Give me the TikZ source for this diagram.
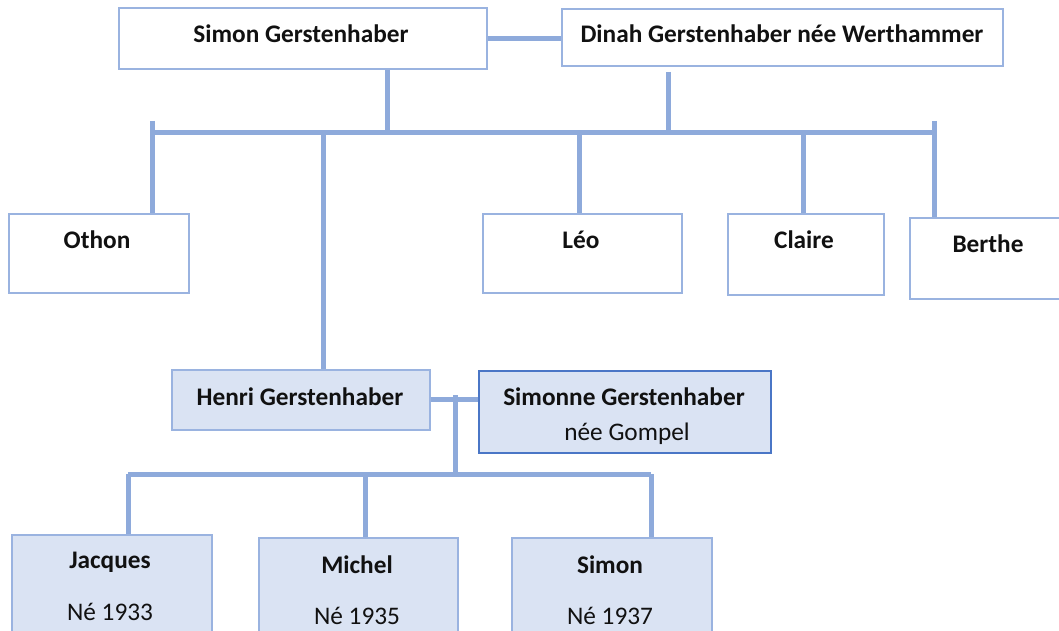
\documentclass[tikz,border=0pt]{standalone}
\usepackage{fontspec}
\setmainfont{Carlito}
\definecolor{connc}{HTML}{8EAADB}
\definecolor{boxline}{HTML}{9AB3E0}
\definecolor{fillb}{HTML}{DAE3F3}
\definecolor{darkb}{HTML}{4A76C6}
\definecolor{txt}{HTML}{111111}
\begin{document}
\begin{tikzpicture}[x=1pt,y=-1pt,
  pbox/.style={draw=boxline, line width=1.3pt, fill=white, inner sep=0pt},
  cbox/.style={pbox, fill=fillb},
  conn/.style={draw=connc, line width=5pt},
  nm/.style={font=\bfseries\fontsize{25.3}{29}\selectfont, inner sep=0pt, anchor=base, text=txt},
  sub/.style={font=\fontsize{25.3}{29}\selectfont, inner sep=0pt, anchor=base, text=txt}]
\useasboundingbox (0,0) rectangle (1059,631);
\fill[white] (0,0) rectangle (1059,631);

% boxes
\node[pbox, minimum width=368, minimum height=61] (simon) at (303,38.5) {};
\node[pbox, minimum width=441, minimum height=57] (dinah) at (782.5,37.5) {};
\node[pbox, minimum width=180, minimum height=79] (othon) at (99,253.5) {};
\node[pbox, minimum width=199, minimum height=79] (leo) at (582.5,253.5) {};
\node[pbox, minimum width=156, minimum height=81] (claire) at (806,254.5) {};
\node[pbox, minimum width=160, minimum height=81] (berthe) at (990,258.5) {};
\node[cbox, minimum width=258, minimum height=60] (henri) at (301,400) {};
\node[cbox, draw=darkb, minimum width=292, minimum height=82] (simonne) at (625,412) {};
\node[cbox, minimum width=200, minimum height=125] (jacques) at (112,597.5) {};
\node[cbox, minimum width=199, minimum height=125] (michel) at (358.5,600.5) {};
\node[cbox, minimum width=200, minimum height=125] (simonj) at (612,600.5) {};

% texts
\node[nm] (simon-t) at (301,43) {Simon Gerstenhaber};
\node[nm] (dinah-t) at (782,43) {Dinah Gerstenhaber née Werthammer};
\node[nm] (othon-t) at (97,248) {Othon};
\node[nm] (leo-t) at (581,248) {Léo};
\node[nm] (claire-t) at (804,248) {Claire};
\node[nm] (berthe-t) at (988,252) {Berthe};
\node[nm] (henri-t) at (300,405) {Henri Gerstenhaber};
\node[nm] (simonne-t) at (624,405) {Simonne Gerstenhaber};
\node[sub] (simonne-s) at (627,440) {née Gompel};
\node[nm] (jacques-t) at (110,568) {Jacques};
\node[sub] (jacques-s) at (110,620) {Né 1933};
\node[nm] (michel-t) at (357,573) {Michel};
\node[sub] (michel-s) at (357,624) {Né 1935};
\node[nm] (simonj-t) at (610,573) {Simon};
\node[sub] (simonj-s) at (610,624) {Né 1937};

% connector coordinates
\coordinate (bar) at (0,133);
\coordinate (sd) at (387,0);
\coordinate (dd) at (668,72);
\coordinate (tl) at (152,121);
\coordinate (tr) at (934,121);
\coordinate (hd) at (323,0);
\coordinate (ld) at (579,0);
\coordinate (cd) at (803,0);
\coordinate (ct) at (455,395);
\coordinate (cbar) at (0,474);
\coordinate (jd) at (128,0);
\coordinate (md) at (365,0);
\coordinate (sjd) at (651,0);

% connectors
\draw[conn] (simon.east) -- (simon.east -| dinah.west);
\draw[conn] (sd |- simon.south) -- (sd |- bar);
\draw[conn] (dd) -- (dd |- bar);
\draw[conn] (tl |- bar) -- (tr |- bar);
\draw[conn] (tl) -- (tl |- othon.north);
\draw[conn] (tr) -- (tr |- berthe.north);
\draw[conn] (hd |- bar) -- (hd |- henri.north);
\draw[conn] (ld |- bar) -- (ld |- leo.north);
\draw[conn] (cd |- bar) -- (cd |- claire.north);
\draw[conn] (henri.east |- 0,399) -- (simonne.west |- 0,399);
\draw[conn] (ct) -- (ct |- cbar);
\draw[conn] (jd |- cbar) -- (sjd |- cbar);
\draw[conn] (jd |- cbar) -- (jd |- jacques.north);
\draw[conn] (md |- cbar) -- (md |- michel.north);
\draw[conn] (sjd |- cbar) -- (sjd |- simonj.north);
\end{tikzpicture}
\end{document}
